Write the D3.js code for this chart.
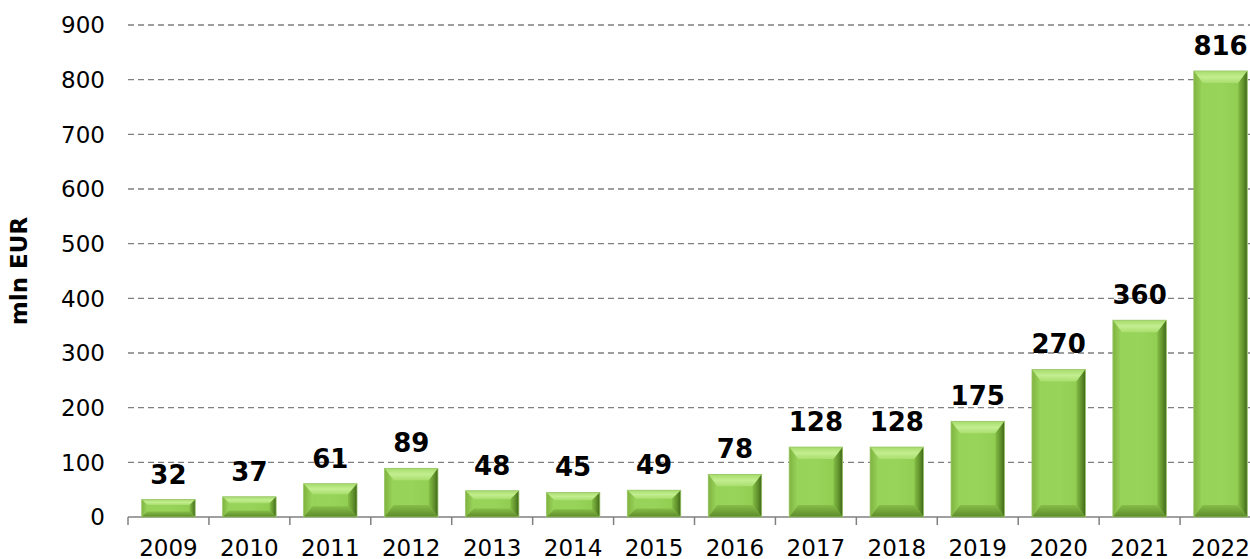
<!DOCTYPE html>
<html>
<head>
<meta charset="utf-8">
<script src="https://cdn.jsdelivr.net/npm/d3@7"></script>
<style>
  body { margin: 0; background: #fff; }
  text { font-family: "DejaVu Sans", Verdana, sans-serif; }
</style>
</head>
<body>
<svg id="chart" width="1250" height="559"></svg>
<script>
const years = ["2009", "2010", "2011", "2012", "2013", "2014", "2015", "2016", "2017", "2018", "2019", "2020", "2021", "2022"];
const values = [32, 37, 61, 89, 48, 45, 49, 78, 128, 128, 175, 270, 360, 816];
const yTicks = [0, 100, 200, 300, 400, 500, 600, 700, 800, 900];

const BEVEL = 12;

const svg = d3.select("#chart");

const x = d3.scaleBand()
  .domain(years)
  .range([128, 1261])
  .paddingInner(0.34)
  .paddingOuter(0.17);

const y = d3.scaleLinear().domain([0, 900]).range([517, 25]);

// gradients for the bevelled faces
const defs = svg.append("defs");
function grad(id, x1, y1, x2, y2, stops) {
  const g = defs.append("linearGradient")
    .attr("id", id)
    .attr("x1", x1).attr("y1", y1).attr("x2", x2).attr("y2", y2);
  stops.forEach(([o, c]) => g.append("stop").attr("offset", o).attr("stop-color", c));
}
grad("g-front", 0, 0, 1, 0, [[0, "#96d257"], [0.5, "#98d45a"], [1, "#8fcb4e"]]);
grad("g-top", 0, 0, 0, 1, [[0, "#a6db6a"], [0.5, "#c3ee90"], [1, "#a9de6e"]]);
grad("g-left", 0, 0, 1, 0, [[0, "#7fb33f"], [1, "#9ad65c"]]);
grad("g-right", 0, 0, 1, 0, [[0, "#84bd46"], [0.6, "#5f8f2b"], [1, "#3f6618"]]);
grad("g-bottom", 0, 0, 0, 1, [[0, "#86be48"], [1, "#5d8a2a"]]);

// dashed grid lines
svg.append("g")
  .selectAll("line")
  .data(yTicks.filter((d) => d > 0))
  .join("line")
  .attr("x1", 128)
  .attr("x2", 1250)
  .attr("y1", (d) => y(d))
  .attr("y2", (d) => y(d))
  .attr("stroke", "#7f7f7f")
  .attr("stroke-width", 1.3)
  .attr("stroke-dasharray", "6,4");

// y tick labels
svg.append("g")
  .selectAll("text")
  .data(yTicks)
  .join("text")
  .attr("x", 105)
  .attr("y", (d) => y(d))
  .attr("dy", "0.36em")
  .attr("text-anchor", "end")
  .attr("font-size", 23)
  .attr("fill", "#000")
  .text((d) => d);

svg.append("text")
  .attr("transform", `translate(27, ${y(450)}) rotate(-90)`)
  .attr("text-anchor", "middle")
  .attr("font-size", 23)
  .attr("font-weight", "bold")
  .text("mln EUR");

// x axis
const xAxis = svg.append("g").attr("transform", `translate(0, ${y(0)})`);
xAxis.append("line")
  .attr("x1", 128)
  .attr("x2", 1250)
  .attr("stroke", "#808080")
  .attr("stroke-width", 1.5);

const step = x.step();
xAxis.selectAll(".tick")
  .data(d3.range(years.length + 1))
  .join("line")
  .attr("x1", (i) => 128 + i * step)
  .attr("x2", (i) => 128 + i * step)
  .attr("y1", 0)
  .attr("y2", 8)
  .attr("stroke", "#808080")
  .attr("stroke-width", 1.5);

xAxis.selectAll("text")
  .data(years)
  .join("text")
  .attr("x", (d) => x(d) + x.bandwidth() / 2)
  .attr("y", 39)
  .attr("text-anchor", "middle")
  .attr("font-size", 23)
  .text((d) => d);

// bevelled bars
const bars = svg.append("g")
  .selectAll("g")
  .data(years.map((yr, i) => ({ yr, v: values[i] })))
  .join("g");

function face(d, side) {
  const x0 = x(d.yr), x1 = x0 + x.bandwidth();
  const y0 = y(d.v), y1 = y(0);
  const b = Math.min(BEVEL, (y1 - y0) * 0.32);
  const bs = Math.min(b, 9); // side faces are a little narrower
  const p = d3.path();
  if (side === "top") {
    p.moveTo(x0, y0); p.lineTo(x1, y0); p.lineTo(x1 - bs, y0 + b); p.lineTo(x0 + bs, y0 + b);
  } else if (side === "right") {
    p.moveTo(x1, y0); p.lineTo(x1, y1); p.lineTo(x1 - bs, y1 - b); p.lineTo(x1 - bs, y0 + b);
  } else if (side === "bottom") {
    p.moveTo(x0, y1); p.lineTo(x1, y1); p.lineTo(x1 - bs, y1 - b); p.lineTo(x0 + bs, y1 - b);
  } else if (side === "left") {
    p.moveTo(x0, y0); p.lineTo(x0 + bs, y0 + b); p.lineTo(x0 + bs, y1 - b); p.lineTo(x0, y1);
  } else {
    p.rect(x0, y0, x1 - x0, y1 - y0);
  }
  p.closePath();
  return p.toString();
}

["front", "top", "left", "right", "bottom"].forEach((side) => {
  bars.append("path").attr("d", (d) => face(d, side)).attr("fill", `url(#g-${side})`);
});

bars.append("rect")
  .attr("x", (d) => x(d.yr))
  .attr("y", (d) => y(d.v))
  .attr("width", x.bandwidth())
  .attr("height", (d) => y(0) - y(d.v))
  .attr("fill", "none")
  .attr("stroke", "#9cc66e")
  .attr("stroke-width", 0.8);

// value labels
bars.append("text")
  .attr("x", (d) => x(d.yr) + x.bandwidth() / 2)
  .attr("y", (d) => y(d.v) - 16)
  .attr("text-anchor", "middle")
  .attr("font-size", 26)
  .attr("font-weight", "bold")
  .text((d) => d.v);
</script>
</body>
</html>
